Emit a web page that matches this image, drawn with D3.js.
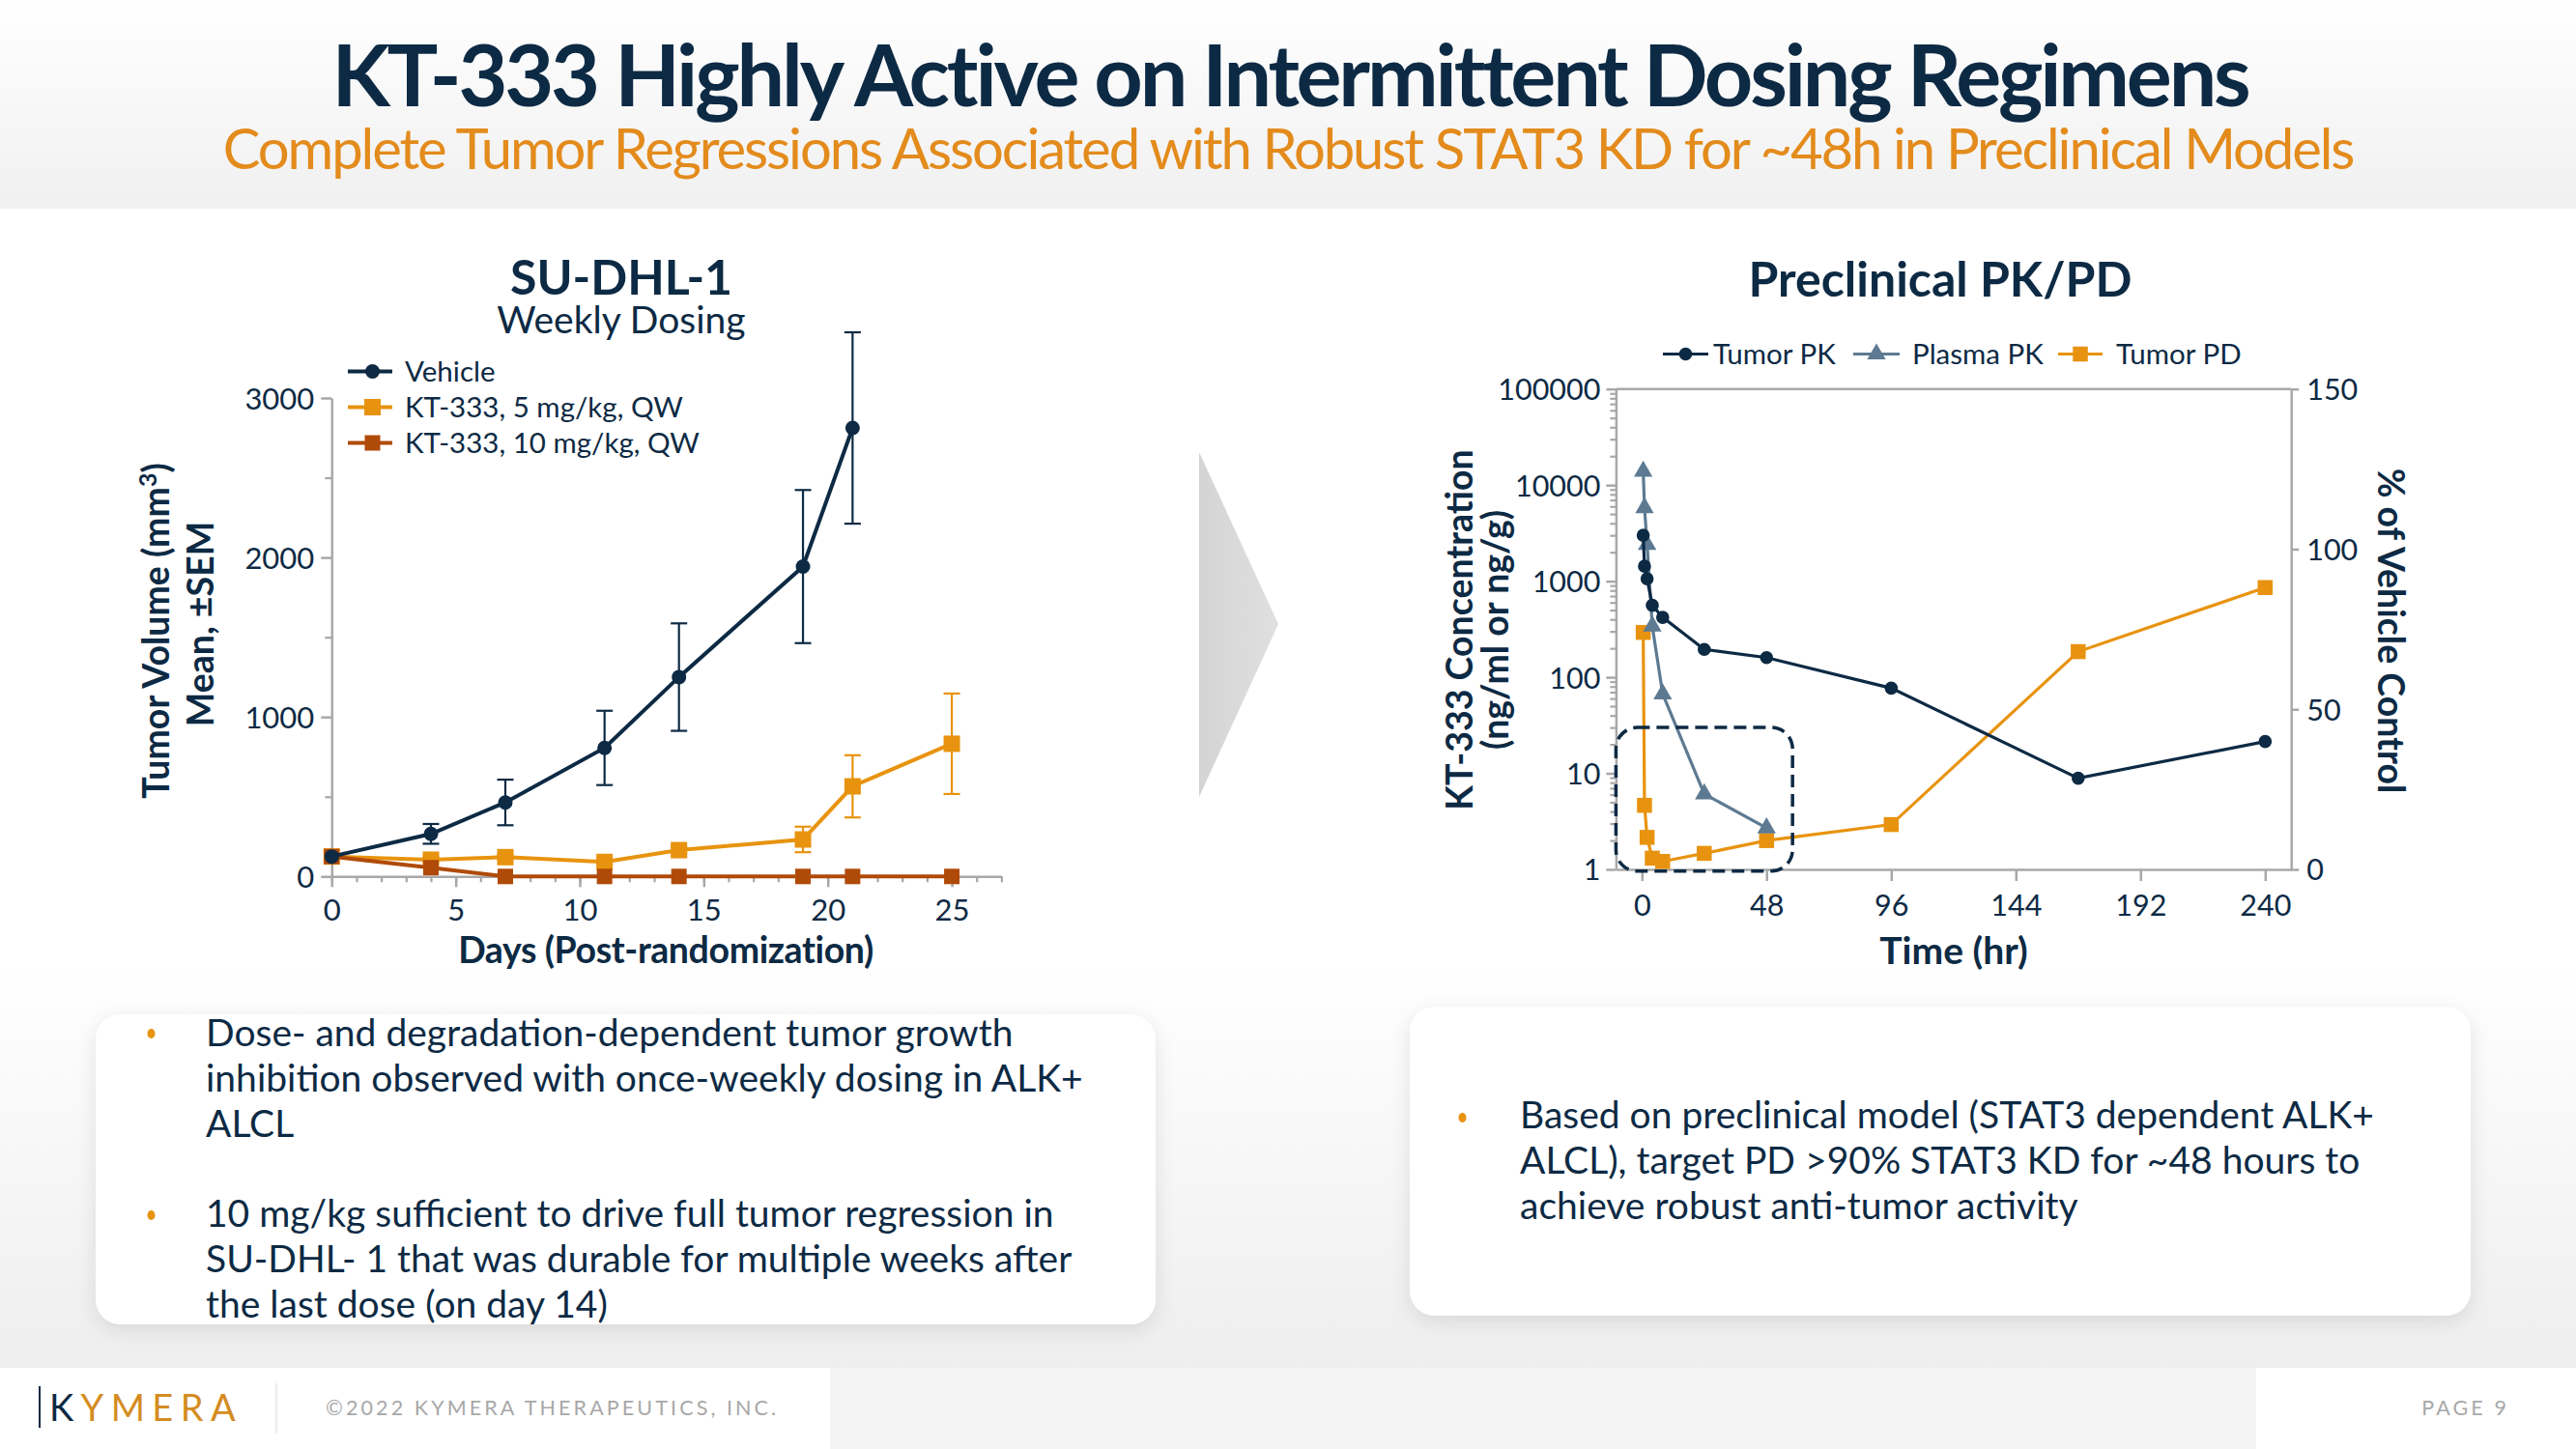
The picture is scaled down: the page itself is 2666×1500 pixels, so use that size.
<!DOCTYPE html>
<html><head><meta charset="utf-8">
<script src="https://cdn.jsdelivr.net/npm/d3@7"></script>
<style>
html,body{margin:0;padding:0;background:#fff;}
svg{display:block;font-family:Lato,"Noto Sans",sans-serif;}
</style></head><body>
<svg id="c" width="2666" height="1500"></svg>
<script>
// ---------- DATA ----------
// Left chart: SU-DHL-1 tumor volume (mm3), mean ± SEM
const vehicleDays = [0, 4, 7, 11, 14, 19, 21];
const vehicleMean = [125, 267, 464, 806, 1250, 1943, 2812];
const vehicleSem  = [0, 62, 143, 233, 337, 480, 600];
const dose5Days = [0, 4, 7, 11, 14, 19, 21, 25];
const dose5Mean = [125, 105, 121, 91, 165, 232, 565, 832];
const dose5Sem  = [0, 15, 15, 15, 20, 80, 195, 315];
const dose10Days = [0, 4, 7, 11, 14, 19, 21, 25];
const dose10Mean = [125, 55, 0, 0, 0, 0, 0, 0];
const tgiNames = ["Vehicle", "KT-333, 5 mg/kg, QW", "KT-333, 10 mg/kg, QW"];
const tgiYTicks = [0, 1000, 2000, 3000];
const tgiXTicks = [0, 5, 10, 15, 20, 25];

// Right chart: Preclinical PK/PD
const pkTime = [0.5, 1, 2, 4, 8, 24, 48, 96, 168, 240];
const tumorPK = [3000, 1430, 1060, 560, 420, 195, 160, 77, 8.9, 21.4];
const plasmaTime = [0.5, 1, 2, 4, 8, 24, 48];
const plasmaPK = [13900, 5800, 2400, 340, 67, 6.1, 2.7];
const pdTime = [0.5, 1, 2, 4, 8, 24, 48, 96, 168, 240];
const tumorPD = [74, 20, 10, 3.5, 2.5, 5, 9, 14, 68, 88];
const pkNames = ["Tumor PK", "Plasma PK", "Tumor PD"];
const pkXTicks = [0, 48, 96, 144, 192, 240];
const pkYTicks = [1, 10, 100, 1000, 10000, 100000];
const pdYTicks = [0, 50, 100, 150];
const highlightTime = [-10, 58];      // dashed box, hours
const highlightConc = [0.96, 30];     // dashed box, concentration

// ---------- STYLE ----------
const NAVY = "#0d2a44", ORANGE = "#e8930f", RUST = "#b04a08", SLATE = "#5d7a92";
const AXIS = "#a8a8a8", SUBORANGE = "#e38b1c";
const TITLE_FS = 37.5;

const svg = d3.select("#c");
const defs = svg.append("defs");
const g1 = defs.append("linearGradient").attr("id","hdr").attr("x1",0).attr("x2",0).attr("y1",0).attr("y2",1);
g1.append("stop").attr("offset","0").attr("stop-color","#ffffff");
g1.append("stop").attr("offset","1").attr("stop-color","#f0f0f0");
const g2 = defs.append("linearGradient").attr("id","low").attr("x1",0).attr("x2",0).attr("y1",0).attr("y2",1);
g2.append("stop").attr("offset","0").attr("stop-color","#ffffff");
g2.append("stop").attr("offset","1").attr("stop-color","#eeeeee");
const g3 = defs.append("linearGradient").attr("id","arr").attr("x1",0).attr("x2",1).attr("y1",0).attr("y2",0);
g3.append("stop").attr("offset","0").attr("stop-color","#d4d4d4");
g3.append("stop").attr("offset","1").attr("stop-color","#e0e0e0");
const sh = defs.append("filter").attr("id","shadow").attr("x","-10%").attr("y","-10%").attr("width","120%").attr("height","130%");
sh.append("feDropShadow").attr("dx",0).attr("dy",6).attr("stdDeviation",10).attr("flood-color","#000").attr("flood-opacity",0.10);

// backgrounds
svg.append("rect").attr("x",0).attr("y",0).attr("width",2666).attr("height",1500).attr("fill","#fff");
svg.append("rect").attr("x",0).attr("y",0).attr("width",2666).attr("height",216).attr("fill","url(#hdr)");
svg.append("rect").attr("x",0).attr("y",1000).attr("width",2666).attr("height",416).attr("fill","url(#low)");
// footer
svg.append("rect").attr("x",0).attr("y",1416).attr("width",2666).attr("height",84).attr("fill","#f4f4f4");
svg.append("rect").attr("x",0).attr("y",1416).attr("width",859).attr("height",84).attr("fill","#fff");
svg.append("rect").attr("x",2335).attr("y",1416).attr("width",331).attr("height",84).attr("fill","#fff");

// titles
svg.append("text").attr("x",1335).attr("y",110).attr("text-anchor","middle")
  .attr("font-size",88).attr("font-weight",700).attr("fill",NAVY).attr("letter-spacing",-3.2)
  .text("KT-333 Highly Active on Intermittent Dosing Regimens");
svg.append("text").attr("x",1333).attr("y",175).attr("text-anchor","middle")
  .attr("font-size",58).attr("fill",SUBORANGE).attr("letter-spacing",-2.1)
  .text("Complete Tumor Regressions Associated with Robust STAT3 KD for ~48h in Preclinical Models");

// arrow
svg.append("path").attr("d","M1241,468 L1323,646 L1241,825 Z").attr("fill","url(#arr)");

function styleAxis(g, fs){
  g.select(".domain").attr("stroke",AXIS).attr("stroke-width",2.5);
  g.selectAll(".tick line").attr("stroke",AXIS).attr("stroke-width",2.5);
  g.selectAll(".tick text").attr("fill",NAVY).attr("font-size",fs).attr("font-family","Lato");
}
function minorAxis(g){
  g.select(".domain").remove();
  g.selectAll(".tick line").attr("stroke",AXIS).attr("stroke-width",2.2);
  g.selectAll(".tick text").remove();
}

// ---------- LEFT CHART ----------
const xL = d3.scaleLinear().domain([0,27]).range([343.3, 1036.4]);
const yL = d3.scaleLinear().domain([0,3000]).range([907.3, 412]);

svg.append("text").attr("x",643).attr("y",305).attr("text-anchor","middle")
  .attr("font-size",50).attr("font-weight",700).attr("fill",NAVY).text("SU-DHL-1");
svg.append("text").attr("x",643).attr("y",345).attr("text-anchor","middle")
  .attr("font-size",39).attr("fill",NAVY).text("Weekly Dosing");

// minor ticks
svg.append("g").attr("transform",`translate(0,${yL(0)})`)
  .call(d3.axisBottom(xL).tickValues(d3.range(0,28)).tickSize(6).tickFormat(""))
  .call(minorAxis);
svg.append("g").attr("transform",`translate(${xL(0)},0)`)
  .call(d3.axisLeft(yL).tickValues([500,1500,2500]).tickSize(7).tickFormat(""))
  .call(minorAxis);
svg.append("g").attr("transform",`translate(0,${yL(0)})`)
  .call(d3.axisBottom(xL).tickValues(tgiXTicks).tickSize(11).tickPadding(13).tickSizeOuter(0))
  .call(g=>styleAxis(g,31));
svg.append("g").attr("transform",`translate(${xL(0)},0)`)
  .call(d3.axisLeft(yL).tickValues(tgiYTicks).tickSize(11).tickPadding(7).tickSizeOuter(0).tickFormat(d3.format("d")))
  .call(g=>styleAxis(g,31))
  .call(g=>g.selectAll(".tick text").attr("dy","0.36em"));

svg.append("text").attr("x",689).attr("y",997).attr("text-anchor","middle")
  .attr("font-size",TITLE_FS).attr("font-weight",700).attr("fill",NAVY).attr("letter-spacing",-0.4)
  .text("Days (Post-randomization)");
const yt1 = svg.append("text").attr("transform","translate(175,653) rotate(-90)").attr("text-anchor","middle")
  .attr("font-size",TITLE_FS).attr("font-weight",700).attr("fill",NAVY);
yt1.append("tspan").text("Tumor Volume (mm");
yt1.append("tspan").attr("dy",-13).attr("font-size",25).text("3");
yt1.append("tspan").attr("dy",13).text(")");
svg.append("text").attr("transform","translate(221,646) rotate(-90)").attr("text-anchor","middle")
  .attr("font-size",TITLE_FS).attr("font-weight",700).attr("fill",NAVY).text("Mean, ±SEM");

function mk(days, mean, sem){ return days.map((d,i)=>({x:d, y:mean[i], e: sem ? sem[i] : 0})); }
const tgi = [
  {name:tgiNames[1], pts: mk(dose5Days,dose5Mean,dose5Sem), color:ORANGE, sym:d3.symbolSquare, size:17*17},
  {name:tgiNames[2], pts: mk(dose10Days,dose10Mean,null), color:RUST, sym:d3.symbolSquare, size:16*16},
  {name:tgiNames[0], pts: mk(vehicleDays,vehicleMean,vehicleSem), color:NAVY, sym:d3.symbolCircle, size:Math.PI*7.5*7.5}
];
const lineL = d3.line().x(d=>xL(d.x)).y(d=>yL(d.y));
tgi.forEach(s=>{
  const g = svg.append("g");
  const eb = s.pts.filter(p=>p.e>0);
  g.selectAll(".ev").data(eb).join("line").attr("x1",p=>xL(p.x)).attr("x2",p=>xL(p.x))
    .attr("y1",p=>yL(p.y-p.e)).attr("y2",p=>yL(p.y+p.e)).attr("stroke",s.color).attr("stroke-width",2.2);
  [1,-1].forEach(sg=>{
    g.selectAll(".ec"+sg).data(eb).join("line").attr("x1",p=>xL(p.x)-8.5).attr("x2",p=>xL(p.x)+8.5)
      .attr("y1",p=>yL(p.y+sg*p.e)).attr("y2",p=>yL(p.y+sg*p.e)).attr("stroke",s.color).attr("stroke-width",2.2);
  });
  g.append("path").attr("d",lineL(s.pts)).attr("fill","none").attr("stroke",s.color).attr("stroke-width",4);
  g.selectAll(".m").data(s.pts).join("path")
    .attr("transform",p=>`translate(${xL(p.x)},${yL(p.y)})`)
    .attr("d",d3.symbol(s.sym,s.size)()).attr("fill",s.color);
});
// legend
const legL = [tgi[2],tgi[0],tgi[1]];
legL.forEach((s,i)=>{
  const y = 384.5 + i*37;
  svg.append("line").attr("x1",360).attr("x2",406).attr("y1",y).attr("y2",y).attr("stroke",s.color).attr("stroke-width",4);
  svg.append("path").attr("transform",`translate(385.5,${y})`).attr("d",d3.symbol(s.sym,s.size)()).attr("fill",s.color);
  svg.append("text").attr("x",419).attr("y",y).attr("dy","0.35em").attr("font-size",29.5).attr("fill",NAVY).text(s.name);
});

// ---------- RIGHT CHART ----------
const xR = d3.scaleLinear().domain([-10,250]).range([1672.4, 2371.2]);
const yR = d3.scaleLog().domain([1,100000]).range([900, 402.7]);
const y2 = d3.scaleLinear().domain([0,150]).range([900, 402.7]);

svg.append("text").attr("x",2008).attr("y",307).attr("text-anchor","middle")
  .attr("font-size",50).attr("font-weight",700).attr("fill",NAVY).text("Preclinical PK/PD");

// frame top
svg.append("line").attr("x1",xR(-10)).attr("x2",xR(250)).attr("y1",yR(100000)).attr("y2",yR(100000))
  .attr("stroke",AXIS).attr("stroke-width",2.5);
const minorVals = [];
for (let k=0;k<5;k++) for (let m=2;m<10;m++) minorVals.push(m*Math.pow(10,k));
svg.append("g").attr("transform",`translate(${xR(-10)},0)`)
  .call(d3.axisLeft(yR).tickValues(minorVals).tickSize(6).tickFormat(""))
  .call(minorAxis);
svg.append("g").attr("transform",`translate(${xR(-10)},0)`)
  .call(d3.axisLeft(yR).tickValues(pkYTicks).tickSize(10).tickPadding(6).tickSizeOuter(0).tickFormat(d3.format("d")))
  .call(g=>styleAxis(g,30.5))
  .call(g=>g.selectAll(".tick text").attr("dy","0.36em"));
svg.append("g").attr("transform",`translate(${xR(250)},0)`)
  .call(d3.axisRight(y2).tickValues(pdYTicks).tickSize(8).tickPadding(8).tickSizeOuter(0))
  .call(g=>styleAxis(g,30.5))
  .call(g=>g.selectAll(".tick text").attr("dy","0.36em"));
svg.append("g").attr("transform",`translate(0,${yR(1)})`)
  .call(d3.axisBottom(xR).tickValues(pkXTicks).tickSize(12).tickPadding(14).tickSizeOuter(0))
  .call(g=>styleAxis(g,30.5));

svg.append("text").attr("x",2022).attr("y",998).attr("text-anchor","middle")
  .attr("font-size",TITLE_FS + 1.5).attr("font-weight",700).attr("fill",NAVY).text("Time (hr)");
svg.append("text").attr("transform","translate(1524,652) rotate(-90)").attr("text-anchor","middle")
  .attr("font-size",TITLE_FS).attr("font-weight",700).attr("fill",NAVY).text("KT-333 Concentration");
svg.append("text").attr("transform","translate(1561,652) rotate(-90)").attr("text-anchor","middle")
  .attr("font-size",TITLE_FS).attr("font-weight",700).attr("fill",NAVY).text("(ng/ml or ng/g)");
svg.append("text").attr("transform","translate(2461,653) rotate(90)").attr("text-anchor","middle")
  .attr("font-size",TITLE_FS).attr("font-weight",700).attr("fill",NAVY).text("% of Vehicle Control");

const pd = pdTime.map((t,i)=>({t, v:tumorPD[i]}));
const pl = plasmaTime.map((t,i)=>({t, v:plasmaPK[i]}));
const tp = pkTime.map((t,i)=>({t, v:tumorPK[i]}));
const pkSeries = [
  {name:pkNames[2], pts:pd, y:y2, color:ORANGE, sym:d3.symbolSquare, size:15.5*15.5},
  {name:pkNames[1], pts:pl, y:yR, color:SLATE, sym:d3.symbolTriangle, size:160},
  {name:pkNames[0], pts:tp, y:yR, color:NAVY, sym:d3.symbolCircle, size:Math.PI*6.8*6.8}
];
pkSeries.forEach(s=>{
  const ln = d3.line().x(d=>xR(d.t)).y(d=>s.y(d.v));
  svg.append("path").attr("d",ln(s.pts)).attr("fill","none").attr("stroke",s.color).attr("stroke-width",3.2);
  svg.append("g").selectAll("path").data(s.pts).join("path")
    .attr("transform",d=>`translate(${xR(d.t)},${s.y(d.v)})`)
    .attr("d",d3.symbol(s.sym,s.size)()).attr("fill",s.color);
});
// dashed highlight
const hx0 = xR(highlightTime[0]), hx1 = xR(highlightTime[1]);
const hy0 = yR(highlightConc[1]), hy1 = yR(highlightConc[0]);
svg.append("rect").attr("x",hx0).attr("y",hy0).attr("width",hx1-hx0).attr("height",hy1-hy0)
  .attr("rx",22).attr("ry",22).attr("fill","none").attr("stroke",NAVY).attr("stroke-width",3.5)
  .attr("stroke-dasharray","13,7");

// legend right
const legR = [
  {s:pkSeries[2], x0:1721, x1:1768, tx:1773},
  {s:pkSeries[1], x0:1918, x1:1966, tx:1979},
  {s:pkSeries[0], x0:2130, x1:2176, tx:2190}
];
legR.forEach(o=>{
  const y = 366.5, cx = (o.x0+o.x1)/2;
  svg.append("line").attr("x1",o.x0).attr("x2",o.x1).attr("y1",y).attr("y2",y).attr("stroke",o.s.color).attr("stroke-width",3.2);
  svg.append("path").attr("transform",`translate(${cx},${y})`).attr("d",d3.symbol(o.s.sym,o.s.size)()).attr("fill",o.s.color);
  svg.append("text").attr("x",o.tx).attr("y",y).attr("dy","0.35em").attr("font-size",29.5).attr("fill",NAVY).text(o.s.name);
});

// ---------- TEXT BOXES ----------
svg.append("rect").attr("x",99).attr("y",1050).attr("width",1097).attr("height",321).attr("rx",26)
  .attr("fill","#fff").attr("filter","url(#shadow)");
svg.append("rect").attr("x",1459).attr("y",1042).attr("width",1098).attr("height",320).attr("rx",26)
  .attr("fill","#fff").attr("filter","url(#shadow)");
const bullets = [
  {bx:156.5, by:1070, tx:213, lines:["Dose- and degradation-dependent tumor growth","inhibition observed with once-weekly dosing in ALK+","ALCL"], y0:1083},
  {bx:156.5, by:1258, tx:213, lines:["10 mg/kg sufficient to drive full tumor regression in","SU-DHL- 1 that was durable for multiple weeks after","the last dose (on day 14)"], y0:1270},
  {bx:1513.5, by:1157, tx:1573, lines:["Based on preclinical model (STAT3 dependent ALK+","ALCL), target PD >90% STAT3 KD for ~48 hours to","achieve robust anti-tumor activity"], y0:1168}
];
bullets.forEach(b=>{
  svg.append("ellipse").attr("cx",b.bx).attr("cy",b.by).attr("rx",4).attr("ry",5).attr("fill",ORANGE);
  b.lines.forEach((l,i)=>{
    svg.append("text").attr("x",b.tx).attr("y",b.y0+i*46.8).attr("font-size",39).attr("fill",NAVY).text(l);
  });
});

// ---------- FOOTER ----------
svg.append("line").attr("x1",41).attr("x2",41).attr("y1",1435).attr("y2",1478).attr("stroke",NAVY).attr("stroke-width",2);
const logo = svg.append("text").attr("x",51).attr("y",1471).attr("font-size",38).attr("letter-spacing",7.4).attr("font-weight",400);
logo.append("tspan").attr("fill",NAVY).text("K");
logo.append("tspan").attr("fill","#d48c22").text("YMERA");
svg.append("line").attr("x1",286).attr("x2",286).attr("y1",1432).attr("y2",1484).attr("stroke","#e6e6e6").attr("stroke-width",1.5);
svg.append("text").attr("x",337).attr("y",1465).attr("font-size",21.5).attr("letter-spacing",3.1).attr("fill","#a8a8a8")
  .text("©2022 KYMERA THERAPEUTICS, INC.");
svg.append("text").attr("x",2597).attr("y",1465).attr("text-anchor","end").attr("font-size",21.5).attr("letter-spacing",3.1).attr("fill","#a8a8a8")
  .text("PAGE 9");
</script>
</body></html>
